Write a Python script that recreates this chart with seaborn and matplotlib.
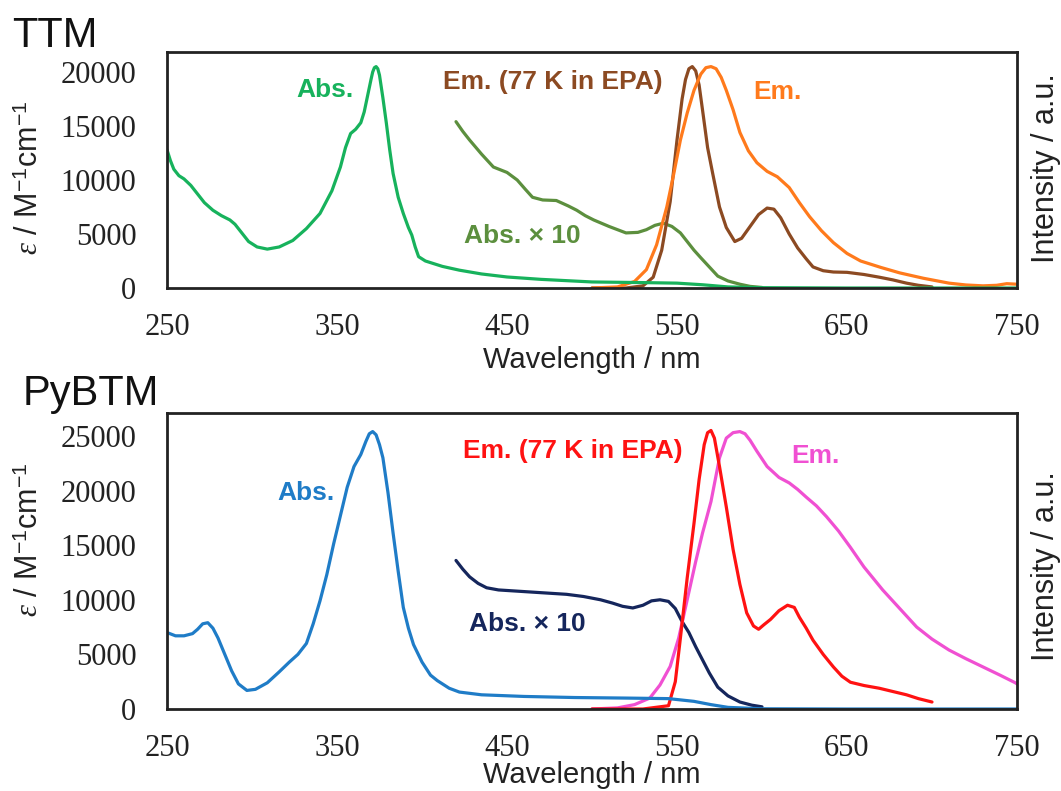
import numpy as np
import pandas as pd
import matplotlib
matplotlib.use("Agg")
import matplotlib.pyplot as plt
import seaborn as sns

# ---------------- data ----------------
ttm_abs_x = [250, 252, 254, 257, 260, 264, 268, 272, 277, 282, 287, 290, 294, 298, 303, 309, 316, 324, 332, 340,
             347, 352, 355, 358, 361, 364, 366, 368, 370, 371, 372, 373, 374, 375, 377, 379, 381, 383, 386, 389,
             392, 394, 396, 398, 402, 406, 412, 422, 435, 450, 470, 500, 530, 550, 565, 580, 600, 650, 700, 750]
ttm_abs_y = [12800, 11800, 11000, 10400, 10100, 9500, 8700, 7900, 7200, 6700, 6300, 5900, 5100, 4300, 3800, 3600,
             3800, 4400, 5500, 6900, 9000, 11200, 13000, 14300, 14700, 15300, 16300, 17800, 19300, 20000, 20400,
             20500, 20300, 19700, 17600, 15300, 12800, 10600, 8400, 6900, 5600, 4900, 3800, 2900, 2500, 2300, 2000,
             1650, 1300, 1020, 800, 560, 500, 450, 300, 100, 30, 0, 0, 0]

ttm_abs10_x = [420, 424, 428, 435, 442, 450, 456, 461, 465, 471, 479, 486, 491, 496, 501, 510, 520, 527, 532, 537,
               542, 547, 552, 556, 560, 564, 569, 574, 580, 587, 593, 600]
ttm_abs10_y = [15400, 14500, 13700, 12400, 11200, 10700, 10000, 9100, 8400, 8150, 8100, 7600, 7200, 6700, 6300, 5700,
               5100, 5150, 5400, 5800, 6000, 5700, 5100, 4300, 3500, 2800, 1950, 1100, 650, 350, 150, 50]

ttm_em77_x = [500, 520, 530, 536, 541, 546, 550, 553, 555, 557, 559, 561, 563, 565, 568, 571, 575, 579, 584, 588,
              593, 598, 603, 607, 611, 616, 621, 626, 630, 636, 642, 650, 660, 669, 677, 685, 692, 700]
ttm_em77_y = [0, 0, 200, 1000, 3500, 8000, 13700, 17500, 19300, 20300, 20500, 20100, 18800, 16500, 13000, 10600,
              7500, 5600, 4300, 4600, 5700, 6800, 7400, 7300, 6500, 5000, 3700, 2700, 1950, 1600, 1480, 1450, 1250,
              1000, 750, 450, 250, 100]

ttm_em_x = [500, 515, 525, 532, 538, 544, 548, 552, 556, 560, 564, 567, 570, 573, 576, 579, 583, 587, 592, 597,
            603, 609, 616, 622, 628, 635, 642, 650, 658, 670, 681, 695, 710, 720, 730, 738, 744, 750]
ttm_em_y = [0, 100, 600, 1700, 4000, 7500, 10500, 13700, 16200, 18300, 19800, 20400, 20500, 20300, 19500, 18300,
            16500, 14400, 12700, 11600, 10800, 10300, 9300, 7900, 6600, 5300, 4200, 3200, 2500, 1900, 1400, 900, 450,
            280, 200, 250, 400, 350]

py_abs_x = [250, 255, 260, 265, 268, 271, 274, 277, 280, 284, 288, 292, 297, 302, 309, 316, 322, 327, 332, 336,
            340, 344, 348, 352, 356, 360, 364, 367, 369, 371, 373, 375, 377, 380, 383, 386, 389, 392, 395, 400, 405,
            409, 416, 422, 435, 460, 490, 520, 545, 560, 570, 580, 600, 650, 700, 750]
py_abs_y = [7000, 6700, 6700, 6900, 7300, 7800, 7900, 7400, 6500, 5000, 3500, 2300, 1700, 1800, 2400, 3400, 4300,
            5000, 6000, 7800, 9900, 12300, 15100, 17700, 20300, 22200, 23300, 24500, 25200, 25400, 25100, 24200,
            23000, 19800, 16100, 12600, 9300, 7400, 5900, 4300, 3100, 2600, 1900, 1550, 1300, 1150, 1050, 1000,
            950, 700, 400, 150, 20, 0, 0, 0]

py_abs10_x = [420, 424, 428, 433, 438, 445, 455, 465, 475, 485, 495, 505, 512, 518, 524, 530, 535, 540, 545, 549,
              553, 557, 561, 565, 569, 574, 580, 587, 594, 600]
py_abs10_y = [13600, 12800, 12100, 11500, 11100, 10900, 10800, 10700, 10600, 10500, 10300, 10000, 9700, 9400, 9250,
              9500, 9900, 10000, 9850, 9200, 8000, 7000, 5700, 4500, 3300, 2000, 1200, 640, 350, 200]

py_em77_x = [500, 530, 545, 549, 552, 556, 560, 563, 566, 568, 570, 572, 575, 579, 583, 587, 591, 595, 598, 601,
             605, 610, 615, 619, 622, 626, 630, 636, 642, 647, 652, 660, 669, 677, 685, 692, 700]
py_em77_y = [0, 0, 300, 2500, 6500, 12000, 17000, 21000, 24200, 25300, 25500, 24800, 22200, 18500, 14600, 11400,
             8800, 7600, 7300, 7700, 8200, 9000, 9500, 9300, 8400, 7400, 6300, 5000, 3850, 3000, 2450, 2150, 1900,
             1600, 1300, 950, 640]

py_em_x = [500, 515, 525, 534, 540, 546, 551, 556, 561, 565, 570, 575, 579, 583, 587, 590, 593, 597, 603, 610,
           616, 621, 626, 632, 638, 645, 652, 660, 671, 681, 691, 700, 710, 720, 730, 740, 749, 750]
py_em_y = [0, 100, 400, 1000, 2200, 3900, 6500, 10000, 13500, 16100, 19000, 23000, 24800, 25300, 25400, 25200,
           24600, 23600, 22200, 21200, 20700, 20100, 19400, 18600, 17600, 16300, 14800, 13000, 10900, 9200, 7500,
           6400, 5400, 4600, 3850, 3100, 2400, 2300]

x_ticks = [250, 350, 450, 550, 650, 750]
y_ticks_top = [0, 5000, 10000, 15000, 20000]
y_ticks_bot = [0, 5000, 10000, 15000, 20000, 25000]

# ---------------- style ----------------
sns.set_theme(style="white")
plt.rcParams["font.family"] = ["Liberation Sans", "DejaVu Sans"]
plt.rcParams["mathtext.fontset"] = "custom"
plt.rcParams["mathtext.rm"] = "Liberation Sans"
plt.rcParams["mathtext.it"] = "Liberation Serif:italic"
plt.rcParams["mathtext.bf"] = "Liberation Sans:bold"

W, H = 1061, 791
fig = plt.figure(figsize=(W / 100, H / 100), dpi=100)
fig.patch.set_facecolor("white")


def px_axes(l, t, r, b):
    return fig.add_axes([l / W, 1 - b / H, (r - l) / W, (b - t) / H])


ax1 = px_axes(167, 52, 1017, 288)
ax2 = px_axes(167, 413, 1017, 709)

LW = 2.3


def draw(ax, x, y, color):
    df = pd.DataFrame({"x": x, "y": y})
    sns.lineplot(data=df, x="x", y="y", ax=ax, color=color, lw=LW, sort=False,
                 estimator=None, legend=False)


c_green, c_olive, c_brown, c_orange = "#17b25c", "#5c8f3e", "#8c4a22", "#ff7a1c"
c_blue, c_navy, c_red, c_mag = "#1f7cc7", "#15265c", "#ff1212", "#f050d2"

draw(ax1, ttm_abs10_x, ttm_abs10_y, c_olive)
draw(ax1, ttm_em77_x, ttm_em77_y, c_brown)
draw(ax1, ttm_em_x, ttm_em_y, c_orange)
draw(ax1, ttm_abs_x, ttm_abs_y, c_green)

draw(ax2, py_abs10_x, py_abs10_y, c_navy)
draw(ax2, py_em_x, py_em_y, c_mag)
draw(ax2, py_em77_x, py_em77_y, c_red)
draw(ax2, py_abs_x, py_abs_y, c_blue)

for ax, ymax, yt in [(ax1, 21850, y_ticks_top), (ax2, 27100, y_ticks_bot)]:
    ax.set_xlim(250, 750)
    ax.set_ylim(0, ymax)
    ax.set_xticks(x_ticks)
    ax.set_yticks(yt)
    ax.set_xticklabels([str(v) for v in x_ticks])
    ax.set_yticklabels([str(v) for v in yt])
    ax.set_xlabel("")
    ax.set_ylabel("")
    ax.tick_params(axis="both", direction="in", length=8, width=1.5, color="#222222",
                   labelsize=22, labelcolor="#222222")
    ax.tick_params(axis="y", pad=22)
    ax.tick_params(axis="x", pad=18)
    for lab in ax.get_xticklabels() + ax.get_yticklabels():
        lab.set_fontfamily("Liberation Serif")
    for s in ax.spines.values():
        s.set_visible(True)
        s.set_linewidth(2.0)
        s.set_color("#222222")
    ax.set_facecolor("white")


def ftext(px, py, s, **kw):
    fig.text(px / W, 1 - py / H, s, **kw)


ylab = r"$\mathit{\varepsilon}$ / M$^{\mathrm{-1}}$cm$^{\mathrm{-1}}$"
# titles
ftext(12, 47, "TTM", fontsize=30, va="baseline", ha="left", color="#111111")
ftext(23, 405, "PyBTM", fontsize=30, va="baseline", ha="left", color="#111111")
# y labels
ftext(30, 178, ylab, fontsize=22, rotation=90, va="center", ha="center", color="#222222")
ftext(30, 540, ylab, fontsize=22, rotation=90, va="center", ha="center", color="#222222")
# right labels
ftext(1046, 168, "Intensity / a.u.", fontsize=22, rotation=90, va="center", ha="center", color="#222222")
ftext(1046, 566, "Intensity / a.u.", fontsize=22, rotation=90, va="center", ha="center", color="#222222")
# x labels
ftext(592, 360, "Wavelength / nm", fontsize=21, va="center", ha="center", color="#222222")
ftext(592, 775, "Wavelength / nm", fontsize=21, va="center", ha="center", color="#222222")

# annotations (pixel centres)
ann_kw = dict(fontsize=19, fontweight="bold", va="center", ha="center")
ftext(325, 90, "Abs.", color=c_green, **ann_kw)
ftext(553, 82, "Em. (77 K in EPA)", color=c_brown, **ann_kw)
ftext(522, 236, "Abs. × 10", color=c_olive, **ann_kw)
ftext(777, 92, "Em.", color=c_orange, **ann_kw)

ftext(306, 493, "Abs.", color=c_blue, **ann_kw)
ftext(573, 451, "Em. (77 K in EPA)", color=c_red, **ann_kw)
ftext(527, 624, "Abs. × 10", color=c_navy, **ann_kw)
ftext(815, 456, "Em.", color=c_mag, **ann_kw)

fig.savefig("out.png", dpi=100, facecolor="white")
